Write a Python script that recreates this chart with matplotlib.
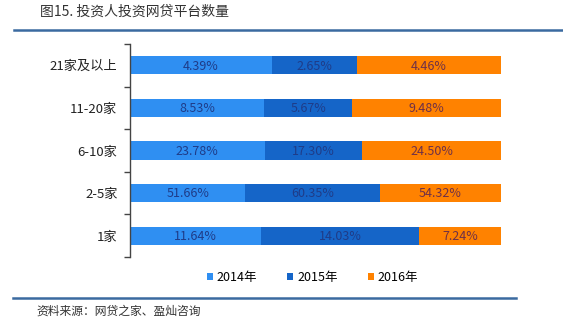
import matplotlib.pyplot as plt
import numpy as np
from matplotlib.patches import Patch
from matplotlib.lines import Line2D

plt.rcParams['font.family'] = ['Noto Sans CJK SC', 'DejaVu Sans']

# ------------------------------
# Data
# ------------------------------
categories = ["1家", "2-5家", "6-10家", "11-20家", "21家及以上"]
years = ["2014年", "2015年", "2016年"]
share_2014 = [11.64, 51.66, 23.78, 8.53, 4.39]
share_2015 = [14.03, 60.35, 17.30, 5.67, 2.65]
share_2016 = [7.24, 54.32, 24.50, 9.48, 4.46]

colors = ["#2F8FF2", "#1565C8", "#FF8200"]
label_colors = ["#1F3C88", "#1F3C88", "#6E3048"]

# ------------------------------
# Plot (100% stacked)
# ------------------------------
fig = plt.figure(figsize=(5.63, 3.22), dpi=100)
ax = fig.add_axes([130 / 563, 1 - 257 / 322, 371 / 563, 213 / 322])

series = np.array([share_2014, share_2015, share_2016])
totals = series.sum(axis=0)
norm = series / totals

y = np.arange(len(categories))
left = np.zeros(len(categories))
for i, yr in enumerate(years):
    ax.barh(y, norm[i], left=left, height=0.43, color=colors[i], label=yr)
    for j in range(len(categories)):
        ax.text(left[j] + norm[i][j] / 2, y[j] - 0.02, f"{series[i][j]:.2f}%",
                ha="center", va="center", fontsize=9, color=label_colors[i])
    left += norm[i]

ax.set_xlim(0, 1)
ax.set_ylim(-0.5, 4.5)
ax.set_yticks(y)
ax.set_yticklabels(categories, fontsize=9.5, color="#222222")
ax.tick_params(axis="y", which="major", length=0, pad=9)
ax.set_yticks(np.arange(-0.5, 4.6, 1), minor=True)
ax.tick_params(axis="y", which="minor", length=4, color="#444444", width=1)
ax.set_xticks([])
for s in ["top", "right", "bottom"]:
    ax.spines[s].set_visible(False)
ax.spines["left"].set_color("#444444")
ax.spines["left"].set_linewidth(1)

# legend
handles = [Patch(facecolor=c, edgecolor="none") for c in colors]
fig.legend(handles, years, loc="center", bbox_to_anchor=(0.555, 0.138), ncol=3,
           frameon=False, fontsize=9, handlelength=0.5, handleheight=0.5,
           handletextpad=0.3, columnspacing=2.4)

# title, rules, source
fig.text(40 / 563, 1 - 12 / 322, "图15. 投资人投资网贷平台数量", fontsize=10,
         color="#333333", va="center", ha="left")
fig.add_artist(Line2D([14 / 563, 1.0], [1 - 30 / 322] * 2, color="#3B6AA0", lw=1.8))
fig.add_artist(Line2D([13 / 563, 516 / 563], [1 - 298 / 322] * 2, color="#3B6AA0", lw=1.8))
fig.text(36 / 563, 1 - 311 / 322, "资料来源：网贷之家、盈灿咨询", fontsize=8.5,
         color="#333333", va="center", ha="left")

fig.savefig("out.png", dpi=100, facecolor="white")
